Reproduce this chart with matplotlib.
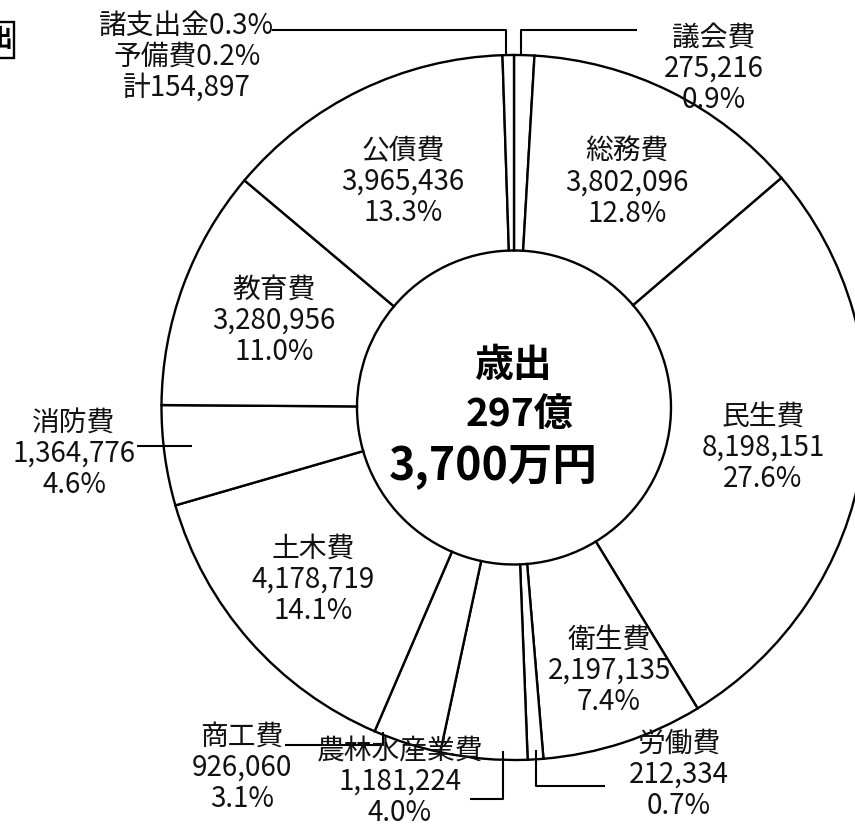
import matplotlib
matplotlib.use("Agg")
import matplotlib.pyplot as plt
from matplotlib.patches import Rectangle

plt.rcParams['font.family'] = ['Noto Sans CJK JP', 'DejaVu Sans']

# ---- data (千円) ----
categories = ["議会費", "総務費", "民生費", "衛生費", "労働費", "農林水産業費",
              "商工費", "土木費", "消防費", "教育費", "公債費", "諸支出金・予備費"]
values = [275216, 3802096, 8198151, 2197135, 212334, 1181224,
          926060, 4178719, 1364776, 3280956, 3965436, 154897]
value_labels = ["275,216", "3,802,096", "8,198,151", "2,197,135", "212,334", "1,181,224",
                "926,060", "4,178,719", "1,364,776", "3,280,956", "3,965,436", "154,897"]
pct_labels = ["0.9%", "12.8%", "27.6%", "7.4%", "0.7%", "4.0%",
              "3.1%", "14.1%", "4.6%", "11.0%", "13.3%", ""]
misc_lines = ["諸支出金0.3%", "予備費0.2%", "計154,897"]
center_lines = ["歳出", "297億", "3,700万円"]

W, H = 855, 836
fig = plt.figure(figsize=(W / 100, H / 100), dpi=100)
ax = fig.add_axes([0, 0, 1, 1])

def Y(y):
    return H - y

cx, cy, R, r_in = 514, 407.5, 352.5, 157
ax.pie(values, startangle=90, counterclock=False, center=(cx, Y(cy)), radius=R,
       colors=['white'] * len(values),
       wedgeprops=dict(width=R - r_in, edgecolor='black', linewidth=1.7),
       frame=True)
ax.set_xlim(0, W)
ax.set_ylim(0, H)
ax.set_aspect('equal')
ax.axis('off')

FS = 20
# label positions (x center, first line y) in image pixels
label_pos = {
    "議会費": (714, 38),
    "総務費": (627, 152),
    "民生費": (763, 417),
    "衛生費": (609, 640),
    "労働費": (679, 744),
    "農林水産業費": (400, 751),
    "商工費": (242, 737),
    "土木費": (313, 549),
    "消防費": (74, 423),
    "教育費": (274, 290),
    "公債費": (403, 151),
}
step = 31
for i, name in enumerate(categories):
    if name not in label_pos:
        continue
    x, y0 = label_pos[name]
    lines = [name, value_labels[i], pct_labels[i]]
    for k, s in enumerate(lines):
        ax.text(x, Y(y0 + k * step), s, ha='center', va='center', fontsize=FS,
                color='#111111')

# 諸支出金・予備費 label
for k, s in enumerate(misc_lines):
    ax.text(187, Y(26 + k * 31), s, ha='center', va='center', fontsize=FS,
            color='#111111')

# center text
for s, x, y, fs in zip(center_lines, [513, 519, 493], [366, 414, 466], [28, 28, 32]):
    ax.text(x, Y(y), s, ha='center', va='center', fontsize=fs,
            fontweight='bold', color='black')

# leader lines (image pixel coordinates)
leaders = [
    [(272, 30), (506, 30), (506, 55)],
    [(521, 55), (521, 30), (637, 30)],
    [(137, 446), (192, 446)],
    [(285, 745), (383, 745), (383, 732)],
    [(470, 799), (503, 799), (503, 751)],
    [(536, 750), (536, 786), (605, 786)],
]
for pts in leaders:
    xs = [p[0] for p in pts]
    ys = [Y(p[1]) for p in pts]
    ax.plot(xs, ys, color='black', lw=1.5, solid_capstyle='butt')

# partially visible boxed title at top-left (cut off at the edge, as in the source)
ax.add_patch(Rectangle((-60, Y(58)), 74, 36, fill=False, edgecolor='black', lw=1.7,
                       clip_on=True))
ax.text(12, Y(40), "出", ha='right', va='center', fontsize=18, fontweight='bold')

fig.savefig("out.png", dpi=100)
